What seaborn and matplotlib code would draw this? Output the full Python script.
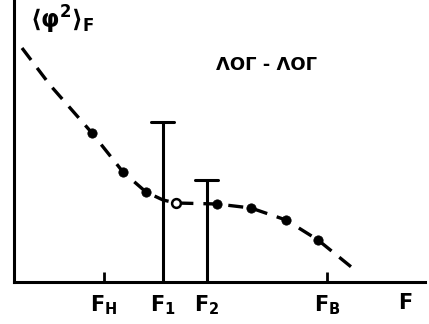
import seaborn as sns
import matplotlib.pyplot as plt
import pandas as pd

sns.set_theme(style='white')
plt.rcParams['font.family'] = ['DejaVu Sans']
plt.rcParams['mathtext.default'] = 'bf'
plt.rcParams['text.color'] = 'black'

# measured points on the curve (F, <phi^2>_F), arbitrary units
pts_f = [78, 109, 132, 162, 203, 237, 272, 304]
pts_phi = [149, 110, 90, 79, 78, 74, 62, 42]
pts_open = [False, False, False, True, False, False, False, False]

# dashed guide curve
curve_f = [8, 36, 78, 109, 132, 149, 162, 203, 237, 272, 304, 341]
curve_phi = [234, 197, 149, 110, 90, 82, 79, 78, 74, 62, 42, 12]

# error bars at F1, F2
bar_f = [149, 193]
bar_top = [160, 102]

tick_pos = [90, 149, 193, 313, 391]
tick_lab = ['$F_H$', '$F_1$', '$F_2$', '$F_B$', '$F$']

df = pd.DataFrame({'F': pts_f, 'phi': pts_phi, 'open': pts_open})
curve = pd.DataFrame({'F': curve_f, 'phi': curve_phi})

fig = plt.figure(figsize=(4.29, 3.24), dpi=100)
ax = fig.add_axes([14 / 429, 42 / 324, 411 / 429, 282 / 324])

sns.lineplot(data=curve, x='F', y='phi', color='black', linewidth=2.4,
             dashes=False, ax=ax, estimator=None, sort=False)
ax.lines[0].set_dashes((4.5, 3))

full = df[~df['open']]
hollow = df[df['open']]
sns.scatterplot(data=full, x='F', y='phi', color='black', s=45,
                edgecolor='black', ax=ax, zorder=3)
sns.scatterplot(data=hollow, x='F', y='phi', color='white', s=40,
                edgecolor='black', linewidth=1.8, ax=ax, zorder=3)

for f, top in zip(bar_f, bar_top):
    ax.plot([f, f], [0, top], color='black', linewidth=2.2)
    ax.plot([f - 12, f + 11], [top, top], color='black', linewidth=2.2)

ax.set_xlim(0, 411)
ax.set_ylim(0, 282)
sns.despine(ax=ax)
for side in ['left', 'bottom']:
    ax.spines[side].set_color('black')
    ax.spines[side].set_linewidth(2.2)

ax.set_yticks([])
ax.set_xticks(tick_pos)
ax.set_xticklabels(tick_lab, fontsize=15, color='black')
ax.tick_params(axis='x', direction='in', length=7, width=2, color='black',
               pad=8, bottom=True)
for i in [1, 2, 4]:
    ax.xaxis.get_major_ticks()[i].tick1line.set_visible(False)
ax.set_xlabel('')
ax.set_ylabel('')

ax.text(0.04, 0.985, r'$\langle\varphi^2\rangle_F$', transform=ax.transAxes,
        fontsize=17, va='top', ha='left', color='black')
ax.text(0.615, 0.77, 'ΛΟΓ - ΛΟΓ', transform=ax.transAxes,
        fontsize=13, fontweight='bold', ha='center', va='center',
        color='black')

fig.savefig('out.png', dpi=100)
